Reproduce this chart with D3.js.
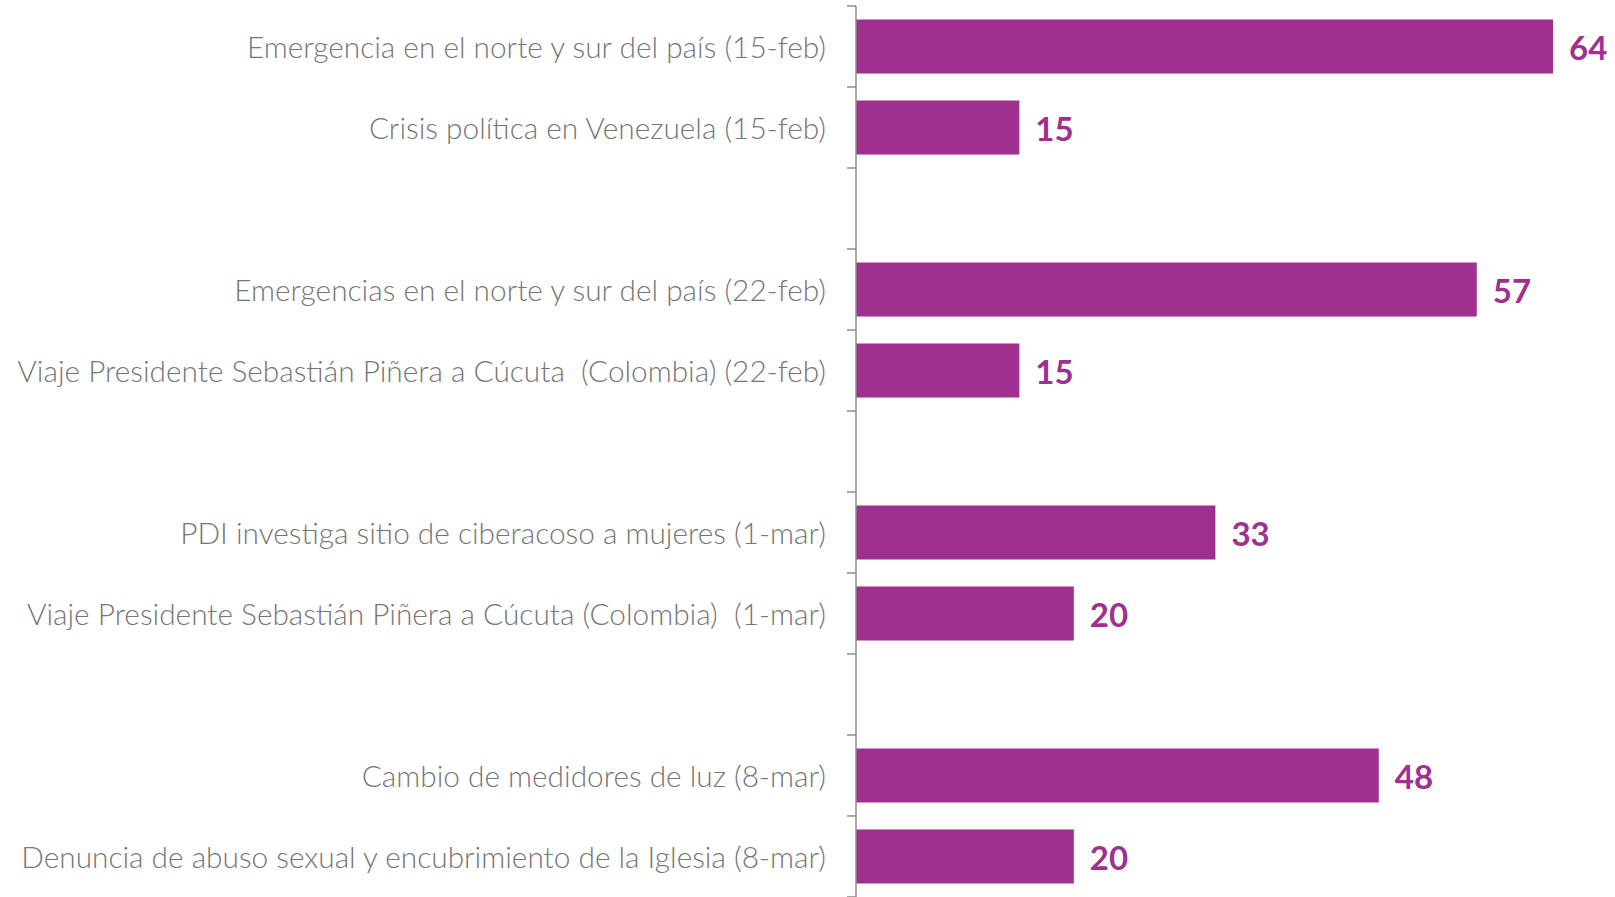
<!DOCTYPE html>
<html>
<head>
<meta charset="utf-8">
<script src="https://cdn.jsdelivr.net/npm/d3@7"></script>
<style>
  body { margin: 0; background: #fff; }
  text { white-space: pre; }
</style>
</head>
<body>
<div id="chart"></div>
<script>
// categories (empty strings are the gaps between weeks)
let categories = [
    "Emergencia en el norte y sur del país (15-feb)",
    "Crisis política en Venezuela (15-feb)",
    "",
    "Emergencias en el norte y sur del país (22-feb)",
    "Viaje Presidente Sebastián Piñera a Cúcuta  (Colombia) (22-feb)",
    "",
    "PDI investiga sitio de ciberacoso a mujeres (1-mar)",
    "Viaje Presidente Sebastián Piñera a Cúcuta (Colombia)  (1-mar)",
    "",
    "Cambio de medidores de luz (8-mar)",
    "Denuncia de abuso sexual y encubrimiento de la Iglesia (8-mar)"
];
let values = [64, 15, null, 57, 15, null, 33, 20, null, 48, 20];

let width = 1615, height = 897;
let margin = { top: 6, right: 62, bottom: 0, left: 856 };

let svg = d3.select("#chart")
    .append("svg")
    .attr("width", width)
    .attr("height", height);

let data = categories.map((c, i) => ({ key: i, label: c, value: values[i] }));

// Scales
let yScale = d3.scaleBand()
    .domain(data.map(d => d.key))
    .range([margin.top, margin.top + 81 * categories.length])
    .paddingInner(0.333)
    .paddingOuter(0.1667);

let xScale = d3.scaleLinear()
    .domain([0, d3.max(values)])
    .range([margin.left, width - margin.right]);

// Bars
svg.selectAll(".bar")
    .data(data.filter(d => d.value != null))
    .enter().append("rect")
    .attr("class", "bar")
    .attr("x", xScale(0))
    .attr("y", d => yScale(d.key))
    .attr("width", d => xScale(d.value) - xScale(0))
    .attr("height", yScale.bandwidth())
    .attr("fill", "#a0308f");

// Value labels
svg.selectAll(".val")
    .data(data.filter(d => d.value != null))
    .enter().append("text")
    .attr("class", "val")
    .attr("x", d => xScale(d.value) + 16)
    .attr("y", d => yScale(d.key) + yScale.bandwidth() / 2)
    .attr("dy", "0.42em")
    .attr("font-family", "Lato, 'Open Sans', sans-serif")
    .attr("font-weight", "bold")
    .attr("font-size", "33px")
    .attr("fill", "#a0308f")
    .text(d => d.value);

// Axis line with ticks between categories
let step = yScale.step();
let boundaries = d3.range(categories.length + 1).map(i => margin.top + i * step);

svg.append("line")
    .attr("x1", xScale(0)).attr("x2", xScale(0))
    .attr("y1", margin.top).attr("y2", height)
    .attr("stroke", "#8c8c8c")
    .attr("stroke-width", 1.5);

svg.selectAll(".tick")
    .data(boundaries)
    .enter().append("line")
    .attr("x1", xScale(0) - 9).attr("x2", xScale(0))
    .attr("y1", d => d).attr("y2", d => d)
    .attr("stroke", "#8c8c8c")
    .attr("stroke-width", 1.5);

// Category labels
svg.selectAll(".cat")
    .data(data.filter(d => d.label !== ""))
    .enter().append("text")
    .attr("class", "cat")
    .attr("x", xScale(0) - 30)
    .attr("y", d => yScale(d.key) + yScale.bandwidth() / 2)
    .attr("dy", "0.38em")
    .attr("text-anchor", "end")
    .attr("font-family", "Lato, 'Open Sans', sans-serif")
    .attr("font-weight", 300)
    .attr("font-size", "29.8px")
    .attr("fill", "#767676")
    .text(d => d.label);
</script>
</body>
</html>
